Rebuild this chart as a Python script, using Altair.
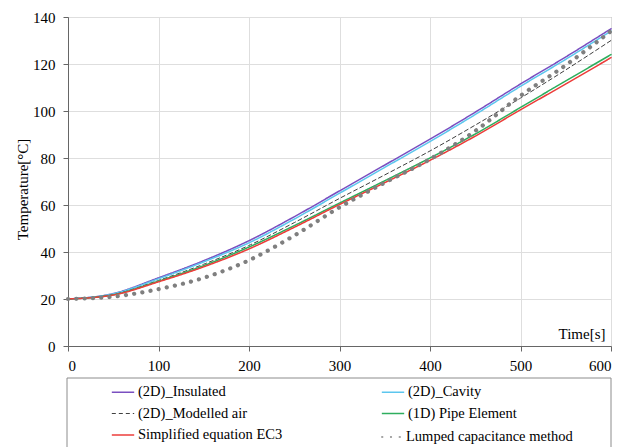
import altair as alt
import pandas as pd

time_s = [0, 50, 100, 150, 200, 250, 300, 350, 400, 450, 500, 550, 600]
insulated = [20, 22.3, 29, 36.3, 44.8, 55, 66, 77, 88, 99.5, 111.5, 123, 135]
cavity = [20, 22.2, 28.6, 35.8, 43.9, 54, 65, 76, 87, 98.5, 110.5, 122, 134]
modelled_air = [20, 21.9, 27.9, 34.8, 42.8, 52.5, 62.8, 72.8, 83, 94, 105.5, 117.5, 130]
pipe_element = [20, 21.8, 27.6, 34.2, 42.1, 51.2, 60.8, 70.3, 80, 90.2, 101.5, 112.8, 124]
ec3 = [20, 21.7, 27.3, 33.7, 41.3, 50.5, 60.2, 69.5, 79, 89.3, 100.5, 111.5, 122.7]
lumped = [20, 21, 24.2, 29, 36.5, 47, 59, 69.5, 79.5, 91.5, 106.5, 119.5, 134]

line_names = [
    "(2D)_Insulated",
    "(2D)_Cavity",
    "(2D)_Modelled air",
    "(1D) Pipe Element",
    "Simplified equation EC3",
]
line_values = [insulated, cavity, modelled_air, pipe_element, ec3]
line_colors = ["#7a4fc0", "#5cc6ee", "#404040", "#2eae5e", "#ec3d3a"]
line_dashes = [[1, 0], [1, 0], [4, 3], [1, 0], [1, 0]]
line_widths = [1.5, 1.5, 1, 1.5, 1.5]

lumped_name = "Lumped capacitance method"
lumped_color = "#7f7f7f"

x_ticks = [0, 100, 200, 300, 400, 500, 600]
y_ticks = [0, 20, 40, 60, 80, 100, 120, 140]

rows = []
for name, vals in zip(line_names, line_values):
    for t, v in zip(time_s, vals):
        rows.append({"time": t, "temp": v, "series": name})
df_lines = pd.DataFrame(rows)
df_lumped = pd.DataFrame({"time": time_s, "temp": lumped, "series": lumped_name})

FONT = "Liberation Serif"

# three small dots, used as the legend symbol of the dotted series
DOT = "M{a},0A0.03,0.03 0 1,0 {b},0A0.03,0.03 0 1,0 {a},0Z"
DOTS_PATH = " ".join(
    DOT.format(a=round(c - 0.03, 3), b=round(c + 0.03, 3)) for c in (-0.78, 0.0, 0.78)
)

x_enc = alt.X(
    "time:Q",
    scale=alt.Scale(domain=[0, 600], nice=False),
    axis=alt.Axis(
        values=x_ticks,
        title="Time[s]",
        titleX=537,
        titleY=-8,
        titleAlign="right",
        titleBaseline="alphabetic",
        labelPadding=7,
    ),
)
y_enc = alt.Y(
    "temp:Q",
    scale=alt.Scale(domain=[0, 140], nice=False),
    axis=alt.Axis(
        values=y_ticks,
        title="Temperature[°C]",
        titlePadding=2,
        titleY=172,
        labelPadding=8,
    ),
)

legend_common = dict(
    orient="none",
    symbolSize=500,
    labelFont=FONT,
    labelFontSize=14.5,
    labelColor="#000000",
    labelOffset=3,
    labelLimit=400,
    padding=0,
)

lines = alt.Chart(df_lines).mark_line(interpolate="monotone", strokeCap="round").encode(
    x=x_enc,
    y=y_enc,
    color=alt.Color(
        "series:N",
        scale=alt.Scale(domain=line_names, range=line_colors),
        title=None,
        legend=alt.Legend(
            legendX=43,
            legendY=363,
            direction="horizontal",
            columns=2,
            columnPadding=95,
            rowPadding=2.5,
            symbolType="stroke",
            **legend_common,
        ),
    ),
    strokeDash=alt.StrokeDash(
        "series:N",
        scale=alt.Scale(domain=line_names, range=line_dashes),
        title=None,
    ),
    strokeWidth=alt.StrokeWidth(
        "series:N",
        scale=alt.Scale(type="ordinal", domain=line_names, range=line_widths),
        title=None,
    ),
)

dots = alt.Chart(df_lumped).mark_line(
    interpolate="monotone", strokeCap="round", strokeDash=[0.1, 8.2], strokeWidth=4.2
).encode(
    x=x_enc,
    y=y_enc,
    stroke=alt.Stroke(
        "series:N",
        scale=alt.Scale(domain=[lumped_name], range=[lumped_color]),
        title=None,
        legend=alt.Legend(
            legendX=311,
            legendY=408,
            symbolType=DOTS_PATH,
            **legend_common,
        ),
    ),
)

box = alt.Chart(pd.DataFrame({"k": [0]})).mark_rect(
    fill="#ffffff", fillOpacity=0, stroke="#8c8c8c", strokeWidth=1
).encode(
    x=alt.value(-1), x2=alt.value(543), y=alt.value(361), y2=alt.value(445)
)

chart = (
    alt.layer(box, lines, dots)
    .properties(
        width=543,
        height=329,
        autosize=alt.AutoSizeParams(type="none"),
        padding={"left": 60, "top": 9, "right": 16, "bottom": 110},
    )
    .configure(font=FONT)
    .configure_view(stroke="#8c8c8c", strokeWidth=1)
    .configure_axis(
        labelFont=FONT,
        labelFontSize=15,
        labelColor="#000000",
        titleFont=FONT,
        titleFontSize=15,
        titleFontWeight="normal",
        titleColor="#000000",
        domainColor="#666666",
        tickColor="#666666",
        tickSize=5,
        gridColor="#dedede",
        gridWidth=1,
    )
)

chart.save("out.html", embed_options={"renderer": "svg", "actions": False})
